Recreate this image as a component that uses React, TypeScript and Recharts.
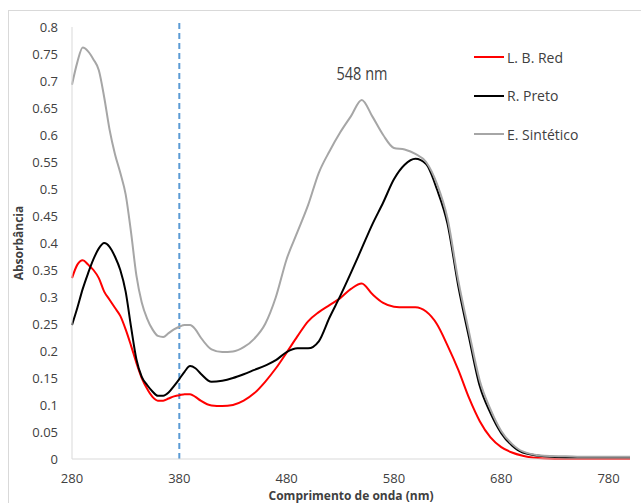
import { Legend, Line, LineChart, ReferenceDot, ReferenceLine, XAxis, YAxis } from "recharts";

const WAVELENGTH = [
  280, 285, 290, 295, 300, 305, 310, 315, 320, 325, 330, 335, 340, 345, 350, 355, 360, 365, 370, 375,
  380, 385, 390, 395, 400, 410, 420, 430, 440, 450, 460, 470, 480, 490, 500, 510, 520, 530, 540, 550,
  560, 570, 580, 590, 600, 610, 620, 630, 640, 650, 660, 670, 680, 690, 700, 720, 740, 760, 780, 800,
];

const LB_RED = [
  0.335, 0.36, 0.368, 0.36, 0.35, 0.335, 0.31, 0.295, 0.28, 0.265, 0.24, 0.21, 0.178, 0.15, 0.13, 0.115, 0.108, 0.108, 0.112, 0.116,
  0.118, 0.12, 0.12, 0.115, 0.108, 0.099, 0.098, 0.1, 0.108, 0.122, 0.143, 0.168, 0.197, 0.227, 0.255, 0.272, 0.285, 0.298, 0.315, 0.325,
  0.305, 0.289, 0.282, 0.281, 0.281, 0.273, 0.25, 0.21, 0.165, 0.113, 0.07, 0.04, 0.022, 0.012, 0.006, 0.001, 0, 0, 0, 0,
];

const R_PRETO = [
  0.248, 0.28, 0.315, 0.344, 0.37, 0.39, 0.4, 0.393, 0.375, 0.35, 0.31, 0.245, 0.185, 0.152, 0.137, 0.125, 0.117, 0.117, 0.123, 0.135,
  0.148, 0.162, 0.172, 0.168, 0.158, 0.143, 0.145, 0.15, 0.157, 0.165, 0.173, 0.183, 0.198, 0.205, 0.205, 0.218, 0.262, 0.302, 0.345, 0.39,
  0.435, 0.475, 0.518, 0.545, 0.556, 0.546, 0.5, 0.435, 0.32, 0.225, 0.135, 0.085, 0.048, 0.025, 0.012, 0.005, 0.003, 0.003, 0.003, 0.003,
];

const E_SINTETICO = [
  0.693, 0.735, 0.762, 0.755, 0.74, 0.72, 0.67, 0.61, 0.565, 0.53, 0.49, 0.42, 0.34, 0.29, 0.26, 0.24, 0.228, 0.226, 0.233, 0.24,
  0.245, 0.248, 0.248, 0.24, 0.225, 0.203, 0.198, 0.199, 0.207, 0.223, 0.25, 0.3, 0.37, 0.42, 0.47, 0.53, 0.57, 0.605, 0.635, 0.665,
  0.634, 0.6, 0.576, 0.573, 0.565, 0.55, 0.51, 0.445, 0.33, 0.235, 0.145, 0.092, 0.052, 0.028, 0.014, 0.006, 0.005, 0.004, 0.004, 0.004,
];

const SERIES_ORDER = ["L. B. Red", "R. Preto", "E. Sintético"];
const X_TICKS = [280, 380, 480, 580, 680, 780];
const Y_TICKS = [0, 0.05, 0.1, 0.15, 0.2, 0.25, 0.3, 0.35, 0.4, 0.45, 0.5, 0.55, 0.6, 0.65, 0.7, 0.75, 0.8];

const data = WAVELENGTH.map((w, i) => ({ w, red: LB_RED[i], preto: R_PRETO[i], sint: E_SINTETICO[i] }));

const FONT = "'Open Sans', sans-serif";
const TEXT = "#404040";

function renderLegend(props: any) {
  const items = [...(props.payload || [])].sort(
    (a: any, b: any) => SERIES_ORDER.indexOf(a.value) - SERIES_ORDER.indexOf(b.value)
  );
  return (
    <div style={{ fontFamily: FONT, fontSize: 14, color: TEXT }}>
      {items.map((it: any) => (
        <div key={it.value} style={{ display: "flex", alignItems: "center", height: 38.5 }}>
          <span style={{ display: "inline-block", width: 30, height: 2, background: it.color, marginRight: 3 }} />
          <span>{it.value}</span>
        </div>
      ))}
    </div>
  );
}

export default function App() {
  return (
    <div style={{ position: "absolute", left: 0, top: 0, width: 641, height: 503, overflow: "hidden", background: "#fff" }}>
      <div style={{ position: "absolute", left: 8, top: 10, width: 700, height: 600, border: "1px solid #d9d9d9" }} />
      <div style={{ position: "absolute", left: 0, top: 0 }}>
        <LineChart width={641} height={503} data={data} margin={{ top: 27, right: 11, bottom: 14, left: 12 }}>
          <XAxis
            dataKey="w"
            type="number"
            domain={[280, 800]}
            ticks={X_TICKS}
            height={30}
            tickLine={false}
            tickSize={0}
            tickMargin={15}
            stroke="#d9d9d9"
            tick={{ fill: TEXT, fontSize: 13, fontFamily: FONT }}
            label={() => (
              <text x={351} y={497} textAnchor="middle" dominantBaseline="middle" fontFamily={FONT} fontSize={12} fontWeight="bold" fill={TEXT}>
                Comprimento de onda (nm)
              </text>
            )}
          />
          <YAxis
            type="number"
            domain={[0, 0.8]}
            ticks={Y_TICKS}
            width={60}
            tickLine={false}
            tickSize={0}
            tickMargin={14}
            stroke="#d9d9d9"
            tick={{ fill: TEXT, fontSize: 13, fontFamily: FONT }}
            label={() => (
              <text x={20} y={243} transform="rotate(-90 20 243)" textAnchor="middle" dominantBaseline="middle" fontFamily={FONT} fontSize={12} fontWeight="bold" fill={TEXT}>
                Absorbância
              </text>
            )}
          />
          <ReferenceLine
            segment={[{ x: 380, y: 0 }, { x: 380, y: 0.81 }]}
            ifOverflow="visible"
            stroke="#5b9bd5"
            strokeWidth={2}
            strokeDasharray="6 4"
          />
          <Line dataKey="red" name="L. B. Red" type="monotone" stroke="#ff0000" strokeWidth={2} dot={false} isAnimationActive={false} />
          <Line dataKey="preto" name="R. Preto" type="monotone" stroke="#000000" strokeWidth={2} dot={false} isAnimationActive={false} />
          <Line dataKey="sint" name="E. Sintético" type="monotone" stroke="#a6a6a6" strokeWidth={2} dot={false} isAnimationActive={false} />
          <ReferenceDot
            x={550}
            y={0.712}
            r={0}
            ifOverflow="visible"
            fill="none"
            stroke="none"
            label={() => (
              <text x={362} y={75} textAnchor="middle" dominantBaseline="middle" fontFamily={FONT} fontSize={19} fill={TEXT} textLength={51} lengthAdjust="spacingAndGlyphs">
                548 nm
              </text>
            )}
          />
          <Legend
            layout="vertical"
            align="center"
            verticalAlign="middle"
            content={renderLegend}
            wrapperStyle={{ left: 474, top: 38, width: 160, height: 120 }}
          />
        </LineChart>
      </div>
    </div>
  );
}
